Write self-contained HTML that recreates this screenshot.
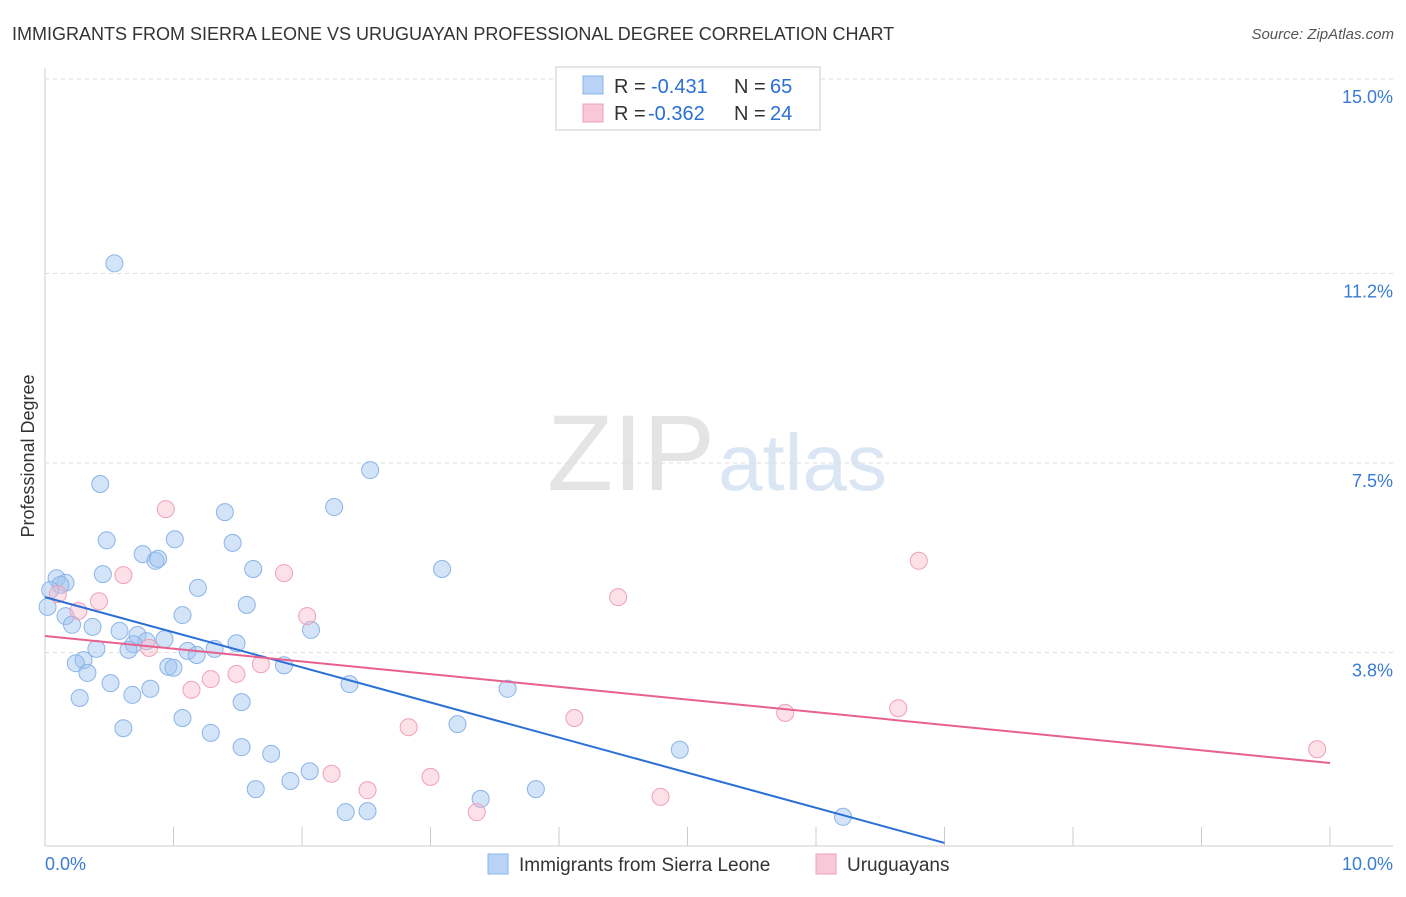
<!DOCTYPE html>
<html><head><meta charset="utf-8"><style>
body{margin:0;background:#fff;font-family:"Liberation Sans",sans-serif;}
svg text{font-family:"Liberation Sans",sans-serif;}
</style></head><body>
<svg id="chart" width="1406" height="892" xmlns="http://www.w3.org/2000/svg">
<text x="12" y="40" font-size="18" fill="#333">IMMIGRANTS FROM SIERRA LEONE VS URUGUAYAN PROFESSIONAL DEGREE CORRELATION CHART</text>
<text x="1394" y="39" font-size="15" fill="#555" font-style="italic" text-anchor="end">Source: ZipAtlas.com</text>
<text x="715" y="490" font-size="108" fill="#e4e4e4" text-anchor="end" font-family="Liberation Serif">ZIP</text>
<text x="718" y="490" font-size="80" fill="#dbe6f5">atlas</text>
<text x="34" y="456" font-size="18" fill="#333" text-anchor="middle" transform="rotate(-90 34 456)">Professional Degree</text>
<g id="grid"></g><g id="pts"></g><g id="lines"></g>
<g>
<rect x="556" y="67" width="264" height="63" fill="#fff" stroke="#ccc"/>
<rect x="583" y="76" width="20" height="18" fill="#b8d3f5" stroke="#8ab4e8"/>
<rect x="583" y="104" width="20" height="18" fill="#f9c8d8" stroke="#f0a0b8"/>
<text x="614" y="93" font-size="20" fill="#333">R =</text>
<text x="651" y="93" font-size="20" fill="#2a6fd6">-0.431</text>
<text x="734" y="93" font-size="20" fill="#333">N =</text>
<text x="770" y="93" font-size="20" fill="#2a6fd6">65</text>
<text x="614" y="120" font-size="20" fill="#333">R =</text>
<text x="648" y="120" font-size="20" fill="#2a6fd6">-0.362</text>
<text x="734" y="120" font-size="20" fill="#333">N =</text>
<text x="770" y="120" font-size="20" fill="#2a6fd6">24</text>
</g>
<g>
<rect x="488" y="854" width="20" height="20" fill="#b8d3f5" stroke="#8ab4e8"/>
<text x="519" y="871" font-size="19" fill="#333">Immigrants from Sierra Leone</text>
<rect x="816" y="854" width="20" height="20" fill="#f9c8d8" stroke="#f0a0b8"/>
<text x="847" y="871" font-size="19" fill="#333">Uruguayans</text>
</g>
</svg>
<script>
const yTicks=[3.8,7.5,11.2,15.0];
const yTickLabels=["3.8%","7.5%","11.2%","15.0%"];
const xTicks=[0,1,2,3,4,5,6,7,8,9,10];
const blueX=[0.54,0.43,2.53,2.25,1.4,0.48,1.01,1.46,0.76,0.86,0.88,3.09,1.62,0.45,0.09,0.16,0.12,1.19,0.04,0.02,1.57,1.07,0.16,0.21,0.37,2.07,0.58,0.72,0.93,0.79,1.49,0.69,0.65,0.4,1.11,1.32,1.18,0.3,0.24,0.96,1.0,1.86,0.33,0.51,0.82,2.37,0.27,0.68,1.53,3.6,1.07,0.61,3.21,1.29,1.53,1.76,4.94,2.06,1.91,1.64,3.82,3.39,2.34,2.51,6.21];
const blueY=[11.4,7.09,7.36,6.64,6.54,5.99,6.01,5.94,5.72,5.59,5.63,5.43,5.43,5.33,5.25,5.16,5.12,5.06,5.02,4.69,4.73,4.53,4.51,4.34,4.3,4.24,4.22,4.14,4.06,4.02,3.98,3.96,3.85,3.87,3.83,3.87,3.75,3.65,3.59,3.52,3.5,3.55,3.4,3.2,3.09,3.18,2.91,2.97,2.83,3.09,2.52,2.32,2.4,2.23,1.95,1.82,1.9,1.48,1.29,1.13,1.13,0.94,0.68,0.7,0.59];
const pinkX=[0.94,0.61,1.86,0.42,0.26,0.1,2.04,4.46,6.8,0.81,1.68,1.49,1.29,1.14,4.12,2.83,5.76,6.64,2.23,3.0,2.51,4.79,3.36,9.9];
const pinkY=[6.60,5.31,5.35,4.8,4.61,4.94,4.51,4.88,5.59,3.89,3.57,3.38,3.28,3.07,2.52,2.34,2.62,2.71,1.43,1.37,1.11,0.98,0.68,1.91];
const blueTrend=[4.88,7.0,0.08];
const pinkTrend=[4.12,10,1.64];

const NS="http://www.w3.org/2000/svg";
const sx=v=>45+v*128.5;
const sy=v=>847-v*51.2;
function mk(tag,attrs,parent){const e=document.createElementNS(NS,tag);for(const k in attrs)e.setAttribute(k,attrs[k]);parent.appendChild(e);return e;}
const grid=document.getElementById('grid'),pts=document.getElementById('pts'),lines=document.getElementById('lines');
let l=mk('line',{x1:45,y1:68,x2:45,y2:846,stroke:'#ccc'},grid);


l=mk('line',{x1:45,y1:846,x2:1393,y2:846,stroke:'#ccc'},grid);


yTicks.forEach((t,i)=>{
 const g=mk('line',{x1:45,y1:sy(t),x2:1393,y2:sy(t),stroke:'#ddd','stroke-dasharray':'4,4'},grid);
 
 
 const tx=mk('text',{x:1393,y:sy(t)+24,'font-size':18,fill:'#3a7bd5','text-anchor':'end'},grid);
 tx.textContent=yTickLabels[i];
 
 
});
xTicks.forEach(t=>{
 const k=mk('line',{x1:sx(t),y1:827,x2:sx(t),y2:846,stroke:'#ccc'},grid);
 
 
});
let tx=mk('text',{x:45,y:870,'font-size':18,fill:'#3a7bd5'},grid);tx.textContent='0.0%';


tx=mk('text',{x:1393,y:870,'font-size':18,fill:'#3a7bd5','text-anchor':'end'},grid);tx.textContent='10.0%';


blueX.forEach((x,i)=>{
 const c=mk('circle',{cx:sx(x),cy:sy(blueY[i]),r:8.5,fill:'rgba(160,196,240,0.45)',stroke:'#8ab4e8','stroke-width':1},pts);
 
 
});
pinkX.forEach((x,i)=>{
 const c=mk('circle',{cx:sx(x),cy:sy(pinkY[i]),r:8.5,fill:'rgba(248,180,200,0.4)',stroke:'#f0a0b8','stroke-width':1},pts);
 
 
});
l=mk('line',{x1:sx(0),y1:sy(blueTrend[0]),x2:sx(blueTrend[1]),y2:sy(blueTrend[2]),stroke:'#2a6fd6','stroke-width':2},lines);


l=mk('line',{x1:sx(0),y1:sy(pinkTrend[0]),x2:sx(pinkTrend[1]),y2:sy(pinkTrend[2]),stroke:'#e8608e','stroke-width':2},lines);


</script>
</body></html>
